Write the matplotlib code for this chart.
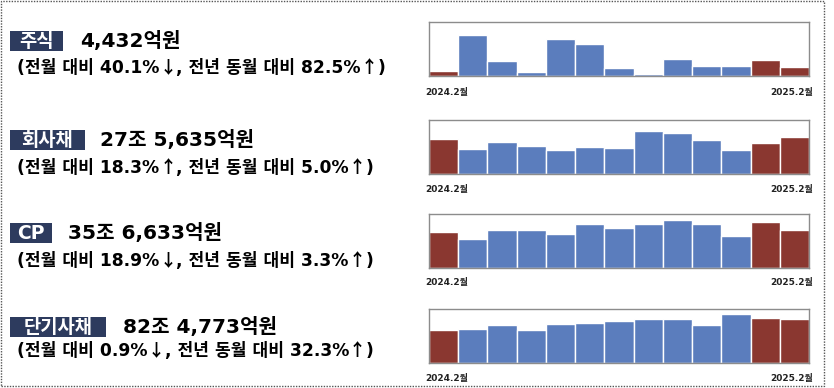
import matplotlib
matplotlib.use('Agg')
import re
import matplotlib.pyplot as plt
import numpy as np
from matplotlib.patches import Rectangle

plt.rcParams['font.family'] = ['DejaVu Sans', 'Noto Sans CJK KR']

W, H = 834, 388

# monthly issuance (억원), 2024.2 ~ 2025.2
months = ['2024.2', '2024.3', '2024.4', '2024.5', '2024.6', '2024.7', '2024.8',
          '2024.9', '2024.10', '2024.11', '2024.12', '2025.1', '2025.2']
stock = [2428, 19300, 6950, 2050, 17700, 15200, 3800, 1100, 7900, 4750, 4750, 7399, 4432]
corp_bond = [263000, 188000, 240500, 210500, 183000, 200500, 195500, 320800, 305700,
             253100, 183000, 233000, 275635]
cp = [345200, 274600, 363000, 363000, 322000, 413400, 375600, 416600, 454500,
      413400, 306100, 439700, 356633]
short_bond = [623400, 631000, 700000, 612000, 725000, 750000, 781000, 812000, 824800,
              700000, 918500, 832300, 824773]

names = ['주식', '회사채', 'CP', '단기사채']
totals = ['4,432억원', '27조 5,635억원', '35조 6,633억원', '82조 4,773억원']
changes = ['(전월 대비 40.1%↓, 전년 동월 대비 82.5%↑)',
           '(전월 대비 18.3%↑, 전년 동월 대비 5.0%↑)',
           '(전월 대비 18.9%↓, 전년 동월 대비 3.3%↑)',
           '(전월 대비 0.9%↓, 전년 동월 대비 32.3%↑)']
series = [stock, corp_bond, cp, short_bond]
ytops = [25600, 406000, 511000, 1006000]

blue = '#5b7dbd'
red = '#8a3730'
navy = '#2d3b5e'

# layout in pixels
ax_top = [22, 120, 214, 309]
ax_h = 54
ax_left, ax_right = 429, 809
tick_y = [92, 189, 282, 378]
label_y = [41, 140, 233, 327]
sub_base = [73, 173, 266, 356]
box_w = [53, 75, 42, 96]
total_x = [80, 100, 68, 123]


def fx(x):
    return x / W


def fy(y):
    return 1 - y / H


fig = plt.figure(figsize=(W / 100, H / 100), dpi=100)
renderer = fig.canvas.get_renderer()


def mixed_text(x, y, s, size):
    # arrows from the CJK font (full size), the rest DejaVu first
    cur = x
    for part in re.split('([↑↓])', s):
        if not part:
            continue
        fam = ['Noto Sans CJK KR'] if part in '↑↓' else ['DejaVu Sans', 'Noto Sans CJK KR']
        t = fig.text(fx(cur), fy(y), part, family=fam, fontsize=size, fontweight='bold',
                     ha='left', va='baseline', color='black')
        cur += t.get_window_extent(renderer=renderer).width


# dotted outer frame
fig.patches.append(Rectangle((fx(1), fy(386)), fx(823), 385 / H, transform=fig.transFigure,
                             fill=False, edgecolor='#555555', linestyle=(0, (1, 1)), lw=1))

for i in range(4):
    ax = fig.add_axes([fx(ax_left), fy(ax_top[i] + ax_h), (ax_right - ax_left) / W, ax_h / H])
    vals = series[i]
    colors = [red] + [blue] * 10 + [red, red]
    x = np.arange(len(vals))
    ax.bar(x, vals, width=1.0, color=colors, edgecolor='white', linewidth=1.0)
    ax.set_xlim(-0.5, len(vals) - 0.5)
    ax.set_ylim(0, ytops[i])
    ax.set_xticks([])
    ax.set_yticks([])
    for s in ax.spines.values():
        s.set_color('#8c8c8c')
        s.set_linewidth(1.0)

    fig.text(fx(ax_left - 4), fy(tick_y[i]), months[0] + '월', fontsize=6.5, fontweight='bold',
             ha='left', va='center', color='#222222')
    fig.text(fx(ax_right + 4), fy(tick_y[i]), months[-1] + '월', fontsize=6.5, fontweight='bold',
             ha='right', va='center', color='#222222')

    # title label box
    fig.patches.append(Rectangle((fx(10), fy(label_y[i] + 10)), box_w[i] / W, 20 / H,
                                 transform=fig.transFigure, facecolor=navy, edgecolor='none'))
    fig.text(fx(10 + box_w[i] / 2), fy(label_y[i] + 6), names[i], fontsize=13.5,
             fontweight='bold', color='white', ha='center', va='baseline')
    fig.text(fx(total_x[i]), fy(label_y[i]), totals[i], fontsize=14.5, fontweight='bold',
             ha='left', va='center', color='black')
    mixed_text(17, sub_base[i], changes[i], 12.3)

fig.savefig('out.png', dpi=100, facecolor='white')
